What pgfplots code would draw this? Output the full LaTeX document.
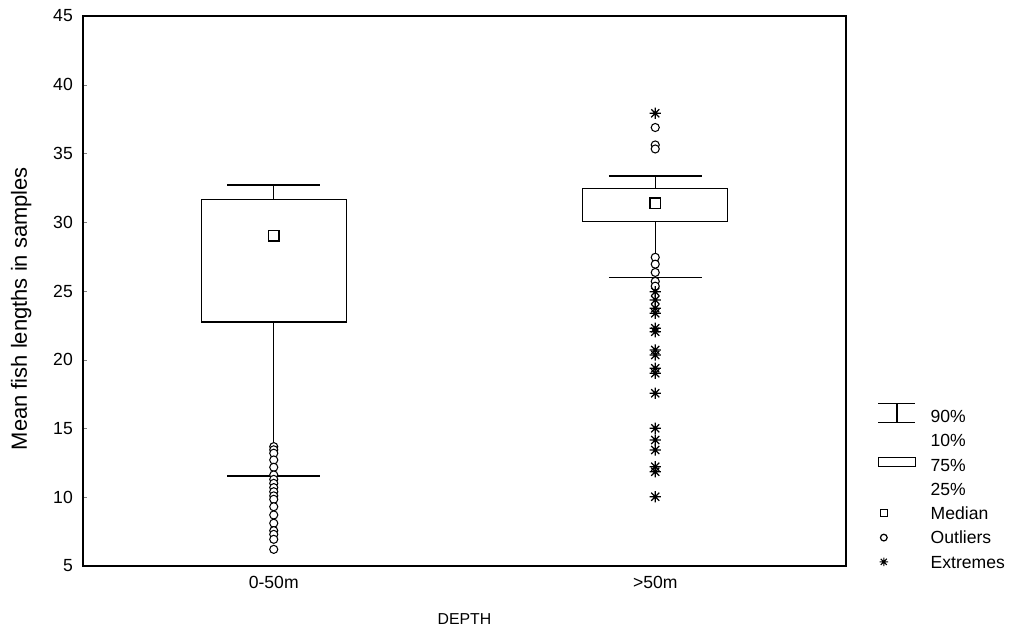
\documentclass[border=0pt]{standalone}
\usepackage{fontspec}
\setmainfont{Liberation Sans}
\usepackage{pgfplots}
\pgfplotsset{compat=1.18}
\pgfdeclareplotmark{star8}{%
  \pgfpathmoveto{\pgfpoint{0pt}{\pgfplotmarksize}}\pgfpathlineto{\pgfpoint{0pt}{-\pgfplotmarksize}}%
  \pgfpathmoveto{\pgfpoint{\pgfplotmarksize}{0pt}}\pgfpathlineto{\pgfpoint{-\pgfplotmarksize}{0pt}}%
  \pgfpathmoveto{\pgfpoint{0.72\pgfplotmarksize}{0.72\pgfplotmarksize}}\pgfpathlineto{\pgfpoint{-0.72\pgfplotmarksize}{-0.72\pgfplotmarksize}}%
  \pgfpathmoveto{\pgfpoint{0.72\pgfplotmarksize}{-0.72\pgfplotmarksize}}\pgfpathlineto{\pgfpoint{-0.72\pgfplotmarksize}{0.72\pgfplotmarksize}}%
  \pgfusepathqstroke}
\begin{document}
\begin{tikzpicture}
\useasboundingbox (-1.66cm,-1.36cm) rectangle (18.68cm,11.32cm);
\begin{axis}[
  scale only axis, width=15.26cm, height=11cm,
  xmin=0.5, xmax=2.5, ymin=5, ymax=45,
  xtick={1,2}, xticklabels={\mbox{0-50m},\mbox{>50m}},
  ytick={5,10,...,45},
  ytick pos=left,
  major x tick style={draw=none},
  tick align=inside, major tick length=0.07cm,
  font=\fontsize{10}{12}\selectfont,
  /pgf/number format/assume math mode=true,
  yticklabel style={xshift=-0.08cm},
  xticklabel style={yshift=-0.08cm},
  ylabel={Mean fish lengths in samples},
  ylabel style={at={(axis description cs:-0.081,0.468)}, anchor=center, font=\fontsize{12.5}{14}\selectfont},
  xlabel={DEPTH},
  xlabel style={at={(axis description cs:0.5,-0.0964)}, anchor=center, font=\fontsize{9}{11}\selectfont},
  axis line style={line width=0.8pt},
  legend style={at={(1.0419,0.2836)}, anchor=north west, draw=none, fill=none,
    inner sep=0pt, outer sep=0pt, row sep=6.6pt, column sep=0.3cm,
    font=\fontsize{10}{12}\selectfont,
    nodes={inner sep=0pt, text height=7.2pt, text depth=0pt}},
  legend cell align=left,
  seg/.style={forget plot, black, line width=0.8pt, mark=none},
]
% legend
\addlegendimage{legend image code/.code={\path (0cm,0cm) (0.74cm,0cm);
  \draw[overlay, black, line width=0.8pt] (0cm,0.26cm) -- (0.74cm,0.26cm) (0.37cm,0.26cm) -- (0.37cm,-0.12cm) (0cm,-0.12cm) -- (0.74cm,-0.12cm);}}
\addlegendentry{90\%}
\addlegendimage{legend image code/.code={\path (0cm,0cm) (0.74cm,0cm);}}
\addlegendentry{10\%}
\addlegendimage{legend image code/.code={\path (0cm,0cm) (0.74cm,0cm);
  \draw[overlay, black, line width=0.7pt] (0cm,-0.04cm) rectangle (0.74cm,0.14cm);}}
\addlegendentry{75\%}
\addlegendimage{legend image code/.code={\path (0cm,0cm) (0.74cm,0cm);}}
\addlegendentry{25\%}
\addlegendimage{legend image code/.code={\path (0cm,0cm) (0.74cm,0cm);
  \draw[overlay, black, line width=0.7pt] plot[only marks, mark=square, mark size=2pt] coordinates {(0.11cm,0cm)};}}
\addlegendentry{Median}
\addlegendimage{legend image code/.code={\path (0cm,0cm) (0.74cm,0cm);
  \draw[overlay, black, line width=0.7pt] plot[only marks, mark=o, mark size=1.9pt] coordinates {(0.11cm,0cm)};}}
\addlegendentry{Outliers}
\addlegendimage{legend image code/.code={\path (0cm,0cm) (0.74cm,0cm);
  \draw[overlay, black, line width=0.6pt] plot[only marks, mark=star8, mark size=2.4pt] coordinates {(0.11cm,0cm)};}}
\addlegendentry{Extremes}
% 0-50m: box 25-75%, whiskers to 10% and 90%
\addplot[seg] coordinates {(0.81,22.75) (1.19,22.75) (1.19,31.67) (0.81,31.67) (0.81,22.75)};
\addplot[seg] coordinates {(1,31.67) (1,32.71)};
\addplot[seg] coordinates {(0.87875,32.71) (1.12125,32.71)};
\addplot[seg] coordinates {(1,22.75) (1,11.55)};
\addplot[seg] coordinates {(0.87875,11.55) (1.12125,11.55)};
% >50m
\addplot[seg] coordinates {(1.81,30.04) (2.19,30.04) (2.19,32.47) (1.81,32.47) (1.81,30.04)};
\addplot[seg] coordinates {(2,32.47) (2,33.36)};
\addplot[seg] coordinates {(1.87875,33.36) (2.12125,33.36)};
\addplot[seg] coordinates {(2,30.04) (2,26.0)};
\addplot[seg] coordinates {(1.87875,26.0) (2.12125,26.0)};
% outliers
\addplot[forget plot, only marks, mark=*, mark size=2.3pt, mark options={fill=white, draw=black, line width=0.6pt}]
  coordinates {(1,13.68) (1,13.45) (1,13.20) (1,12.71) (1,12.18) (1,11.62) (1,11.30) (1,11.01) (1,10.70) (1,10.40)
    (1,10.10) (1,9.85) (1,9.31) (1,8.71) (1,8.11) (1,7.57) (1,7.30) (1,6.94) (1,6.21)
    (2,36.89) (2,35.62) (2,35.33) (2,27.45) (2,26.95) (2,26.35) (2,25.70) (2,25.35)};
% medians
\addplot[forget plot, only marks, mark=square*, mark size=2.9pt, mark options={fill=white, draw=black, line width=0.8pt}]
  coordinates {(1,29.02) (2,31.38)};
% extremes
\addplot[forget plot, only marks, mark=star8, mark size=3.2pt, line width=0.7pt, black]
  coordinates {(2,37.92) (2,24.95) (2,24.35) (2,23.74) (2,23.38) (2,22.29) (2,22.04) (2,20.71) (2,20.35)
    (2,19.38) (2,19.02) (2,17.56) (2,15.01) (2,14.16) (2,13.44) (2,12.22) (2,11.86) (2,10.04)};
\end{axis}
\end{tikzpicture}
\end{document}
